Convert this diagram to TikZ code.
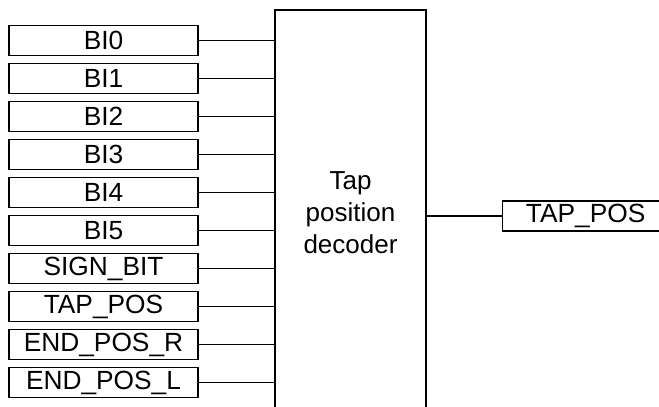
\documentclass[tikz,border=0pt]{standalone}
\usepackage{fontspec}
\setmainfont{Liberation Sans}
\begin{document}
\begin{tikzpicture}[x=1pt,y=-1pt,
  sig/.style={draw, line width=1.3pt, minimum width=189pt, minimum height=30pt, inner sep=0pt, font=\fontsize{26.3}{28}\selectfont},
  wire/.style={line width=1.3pt}]
\useasboundingbox (0,0) rectangle (659,407);
\clip (0,0) rectangle (659,407);
% main block
\draw[wire] (275,420) -- (275,10) -- (426,10) -- (426,420);
\node[align=center, font=\fontsize{26}{32}\selectfont] (dec) at (350.5,213) {Tap\\position\\decoder};
\coordinate (L) at (275,0);
\coordinate (R) at (426,216);
\foreach \t [count=\i from 0] in {BI0,BI1,BI2,BI3,BI4,BI5,SIGN\_BIT,TAP\_POS,END\_POS\_R,END\_POS\_L}{
  \node[sig] (in\i) at (103.5,{40.5+38*\i}) {\t};
  \draw[wire] (in\i.east) -- (L |- in\i.east);
}
\node[sig, minimum width=166pt, anchor=west] (out) at (502,216) {TAP\_POS};
\draw[wire] (R) -- (out.west);
\end{tikzpicture}
\end{document}
